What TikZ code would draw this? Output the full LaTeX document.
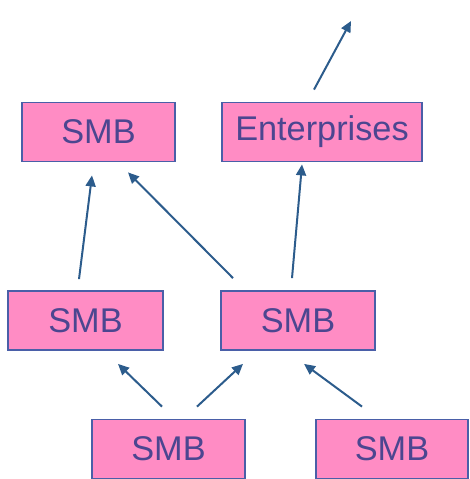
\documentclass[tikz,border=0pt]{standalone}
\usepackage{fontspec}
\setmainfont{Liberation Sans}
\usetikzlibrary{arrows.meta}
\definecolor{boxfill}{HTML}{FF8CC4}
\definecolor{boxline}{HTML}{4A5FA8}
\definecolor{boxtext}{HTML}{4C4690}
\definecolor{arrcol}{HTML}{2C5C8C}
\begin{document}
\begin{tikzpicture}[x=1pt,y=-1pt,
  smbbox/.style={draw=boxline,line width=1.8pt,fill=boxfill,text=boxtext,
    font=\fontsize{34.3}{37}\selectfont,inner sep=0pt,minimum height=59pt},
  arr/.style={draw=arrcol,line width=2pt,-{Triangle[length=11pt,width=10pt]}}]
\useasboundingbox (0,0) rectangle (469,479);
\node[smbbox,minimum width=153pt] (A) at (98.5,132) {SMB};
\node[smbbox,minimum width=200pt] (B) at (322,132) {Enterprises};
\node[smbbox,minimum width=155pt] (C) at (85.5,320.5) {SMB};
\node[smbbox,minimum width=154pt] (D) at (298,320.5) {SMB};
\node[smbbox,minimum width=153pt] (E) at (168.5,449) {SMB};
\node[smbbox,minimum width=152pt] (F) at (392,449) {SMB};
\coordinate (T) at (351,21);
\draw[arr] ([xshift=-8pt,yshift=12pt]B.north) -- (T);
\draw[arr] ([xshift=-6.5pt,yshift=11pt]C.north) -- ([xshift=-6.5pt,yshift=-13pt]A.south);
\draw[arr] ([xshift=-65pt,yshift=12pt]D.north) -- ([xshift=29.5pt,yshift=-10pt]A.south);
\draw[arr] ([xshift=-6pt,yshift=12pt]D.north) -- ([xshift=-20pt,yshift=-2pt]B.south);
\draw[arr] ([xshift=-6.5pt,yshift=12pt]E.north) -- ([xshift=32.5pt,yshift=-13pt]C.south);
\draw[arr] ([xshift=28.5pt,yshift=12pt]E.north) -- ([xshift=-55pt,yshift=-13pt]D.south);
\draw[arr] ([xshift=-30pt,yshift=12pt]F.north) -- ([xshift=6pt,yshift=-13pt]D.south);
\end{tikzpicture}
\end{document}
